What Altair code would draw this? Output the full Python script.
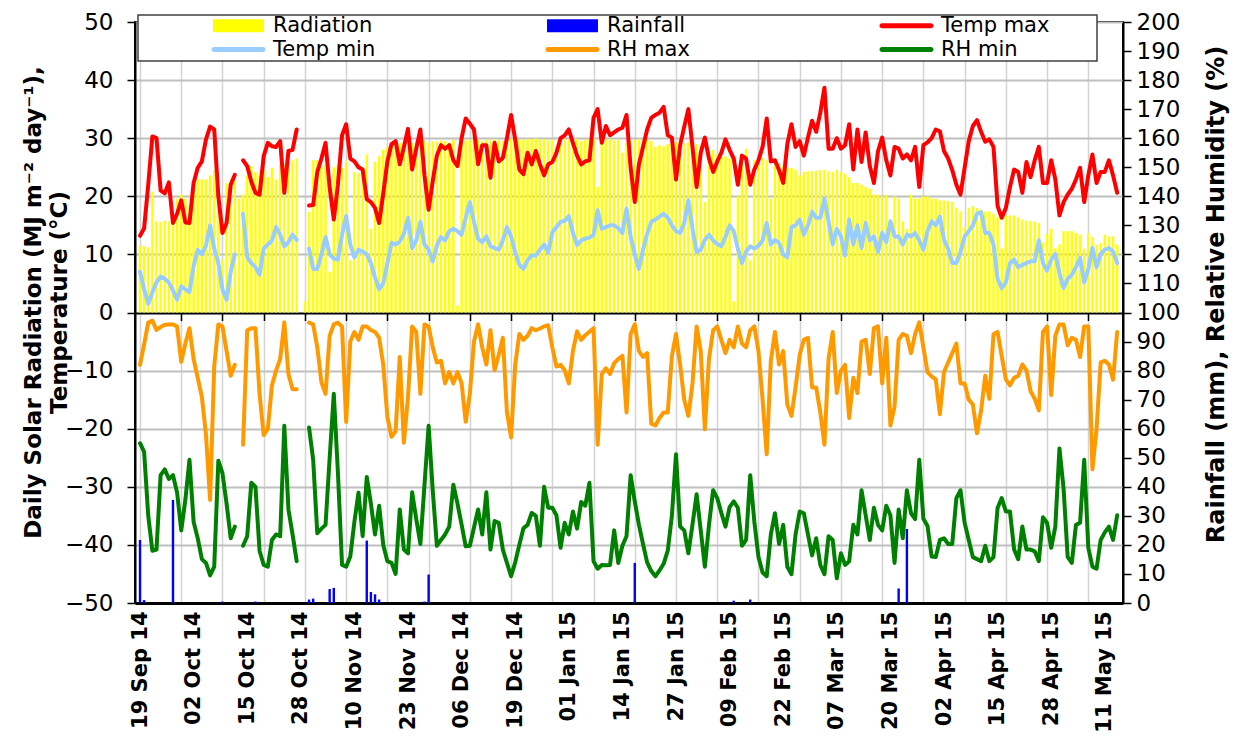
import altair as alt
import pandas as pd

# ---------------- data (daily, 19 Sep 2014 -> 14 May 2015) ----------------
N_DAYS = 238
X_LABELS = ["19 Sep 14", "02 Oct 14", "15 Oct 14", "28 Oct 14", "10 Nov 14", "23 Nov 14",
            "06 Dec 14", "19 Dec 14", "01 Jan 15", "14 Jan 15", "27 Jan 15", "09 Feb 15",
            "22 Feb 15", "07 Mar 15", "20 Mar 15", "02 Apr 15", "15 Apr 15", "28 Apr 15",
            "11 May 15"]

RAD = [11.5, 11.4, 11.2, 20.8, 15.7, 15.6, 15.8, 15.7, 16.0, 19.6,
       20.3, 19.6, 18.3, 21.3, 22.9, 22.9, 22.9, 23.6, 24.5, 23.0,
       9.1, 22.3, 22.9, 22.9, 19.6, 20.3, 23.6, 25.2, 24.2, 23.6,
       24.5, 23.3, 24.9, 22.9, 25.5, 25.5, 26.0, 26.2, 26.5, None,
       1.9, 17.3, 26.2, 26.2, 25.0, 25.5, 7.0, 25.0, 25.5, 24.9,
       26.0, 9.0, 24.2, 24.0, 24.5, 27.2, 14.4, 25.9, 26.9, 28.0,
       28.5, 28.8, 29.0, 29.2, 29.0, 29.5, 29.2, 29.5, 29.3, 29.6,
       29.2, 29.5, 29.4, 29.6, 29.5, 29.2, 29.7, 1.2, 29.5, 29.6,
       29.8, 29.4, 29.7, 29.5, 29.8, 29.6, 29.9, 29.7, 29.5, 29.8,
       29.9, 29.6, 29.8, 29.7, 29.9, 29.8, 30.0, 29.7, 29.9, 29.6,
       29.8, 28.5, 29.7, 29.9, 29.6, 29.8, 29.9, 29.5, 29.7, 29.8,
       29.9, 21.6, 29.5, 29.7, 29.9, 29.6, 29.8, 27.5, 29.2, 29.5,
       29.7, 29.9, 29.6, 29.8, 29.5, 28.5, 28.8, 28.6, 29.0, 29.2,
       29.4, 29.5, 29.1, 29.3, 28.9, 29.0, 28.8, 19.0, 27.5, 28.0,
       27.2, 26.8, 26.9, 26.5, 1.9, 20.0, 26.3, 28.2, 9.0, 26.2,
       26.9, 26.6, 26.2, 19.6, 26.0, 25.6, 25.2, 24.9, 24.9, 24.6,
       23.6, 24.2, 24.3, 24.3, 24.4, 24.5, 24.6, 24.3, 24.2, 24.6,
       24.2, 23.9, 23.3, 22.3, 22.3, 22.0, 21.6, 21.3, 20.3, 20.3,
       20.0, 20.3, 15.0, 20.0, 19.6, 15.7, 14.4, 20.3, 19.6, 19.6,
       20.0, 20.0, 19.6, 19.6, 19.3, 19.3, 19.2, 19.0, 18.0, 17.4,
       14.7, 18.0, 18.3, 18.0, 17.7, 17.4, 17.4, 17.0, 16.4, 11.0,
       16.7, 16.7, 16.7, 16.4, 16.0, 15.8, 15.7, 15.7, 15.4, 12.1,
       13.5, 14.4, 11.0, 11.7, 14.0, 14.0, 14.0, 13.7, 13.4, 11.0,
       13.7, 13.0, 11.7, 12.0, 13.4, 13.1, 13.1, 11.7]

RAIN_DAYS = [0, 1, 8, 20, 28, 41, 42, 46, 47, 55, 56, 57, 58, 69, 70, 120, 144, 148, 184, 186]
RAIN_MM = [21.7, 1.0, 35.5, 0.5, 0.5, 1.2, 1.5, 4.8, 5.2, 21.5, 3.8, 3.0, 1.2, 0.5, 9.8, 13.8,
           0.8, 1.2, 5.0, 25.5]

TMAX = [13.2, 14.5, 22.0, 30.3, 30.0, 21.0, 20.5, 22.4, 15.4, 17.0, 19.3, 15.5, 15.4, 22.3,
        24.9, 26.0, 29.8, 32.0, 31.5, 20.0, 13.7, 15.4, 22.0, 23.7,
        None,
        26.2, 25.2, 22.5, 20.6, 20.3, 26.9, 29.2, 28.6, 28.5, 29.5, 20.6, 27.8, 28.0, 31.5,
        None, None,
        18.4, 18.5, 24.2, 26.5, 29.2, 21.5, 16.0, 22.0, 30.5, 32.4,
        26.5, 26.0, 25.0, 24.6, 19.5, 19.0, 18.0, 15.4, 20.5, 26.0,
        29.0, 29.5, 25.5, 28.5, 31.6, 24.6, 28.2, 31.5, 23.6, 17.7,
        22.6, 27.0, 28.8, 28.2, 28.8, 26.2, 25.2, 30.0, 33.4, 32.5,
        31.5, 25.5, 28.8, 28.8, 23.2, 29.2, 26.0, 26.6, 30.0, 34.0,
        29.8, 24.6, 23.8, 27.5, 25.5, 27.8, 25.5, 23.6, 25.5, 25.9,
        27.5, 30.0, 30.5, 31.5, 29.2, 27.0, 25.5, 26.0, 26.2, 33.5,
        35.0, 29.2, 32.1, 30.5, 31.0, 31.5, 31.8, 34.0, 24.9, 19.0,
        25.5, 28.5, 31.5, 33.5, 34.0, 34.4, 35.4, 30.5, 30.1, 22.9,
        28.8, 32.0, 35.0, 28.5, 21.6, 27.5, 30.1, 26.5, 24.2, 26.0,
        27.5, 29.8, 28.0, 26.5, 22.0, 27.0, 26.5, 22.0, 24.6, 26.2,
        28.5, 33.4, 26.0, 26.2, 24.5, 22.3, 29.0, 32.4, 28.5, 29.5,
        27.0, 30.1, 33.0, 31.1, 34.4, 38.7, 28.2, 28.2, 30.0, 28.2,
        28.8, 32.4, 24.6, 31.5, 25.9, 31.0, 25.2, 22.3, 27.8, 30.1,
        26.2, 23.6, 28.5, 28.2, 26.5, 27.2, 26.2, 28.5, 21.6, 28.8,
        29.3, 30.0, 31.5, 31.2, 27.8, 26.5, 24.5, 22.0, 20.3, 24.9,
        29.5, 32.1, 33.1, 31.1, 29.4, 29.8, 28.5, 18.3, 16.3, 18.0,
        21.6, 24.6, 24.2, 20.6, 25.9, 23.3, 26.2, 28.5, 22.3, 22.3,
        26.2, 22.9, 16.7, 19.0, 20.3, 21.3, 22.9, 24.9, 19.0, 23.6,
        27.2, 22.3, 24.2, 24.2, 26.2, 23.6, 20.6]

TMIN = [7.0, 4.0, 1.5, 3.5, 5.2, 6.2, 5.8, 5.2, 3.8, 2.2, 4.5, 4.0, 3.5, 8.0, 10.8, 10.0,
        11.5, 15.0, 11.0, 8.5, 4.0, 2.2, 7.0, 10.0,
        None,
        17.0, 9.5, 8.5, 7.8, 6.5, 11.0, 11.7, 12.4, 14.7, 13.4, 11.4, 12.1, 13.4, 12.5,
        None, None,
        11.0, 7.5, 7.5, 10.0, 13.0, 10.0, 9.3, 9.1, 13.4, 16.6,
        11.7, 9.5, 10.8, 10.5, 10.0, 8.5, 6.0, 4.0, 5.0, 8.5,
        12.0, 11.7, 12.2, 13.5, 16.3, 11.1, 12.4, 15.6, 11.7, 10.8,
        8.8, 11.5, 13.0, 12.4, 14.0, 14.4, 14.0, 13.4, 16.3, 19.0,
        15.6, 12.7, 12.1, 13.1, 11.4, 11.1, 10.8, 12.4, 14.7, 13.1,
        10.4, 8.2, 7.5, 9.0, 9.8, 9.8, 10.8, 11.7, 10.3, 13.8,
        14.7, 15.6, 15.8, 16.6, 13.7, 11.6, 12.4, 12.7, 12.9, 13.3,
        17.6, 14.4, 14.7, 15.0, 15.0, 14.5, 13.7, 17.9, 13.1, 10.0,
        7.5, 10.8, 13.5, 15.6, 16.0, 16.5, 17.0, 16.3, 15.0, 14.0,
        13.7, 15.4, 19.3, 14.4, 10.4, 10.8, 12.5, 13.4, 12.4, 11.8,
        11.4, 13.0, 15.0, 14.0, 11.0, 8.5, 10.5, 11.4, 11.0, 11.5,
        12.4, 15.4, 11.7, 12.5, 12.0, 10.0, 9.5, 14.7, 15.0, 16.0,
        13.4, 15.0, 17.3, 16.3, 16.3, 19.6, 15.7, 11.7, 14.4, 13.1,
        9.8, 16.0, 11.7, 15.0, 11.1, 15.4, 12.4, 13.1, 10.4, 13.7,
        12.1, 15.7, 13.1, 13.1, 11.7, 13.4, 13.1, 13.7, 12.4, 10.8,
        14.0, 15.7, 15.0, 16.5, 12.5, 11.0, 8.5, 8.5, 10.4, 13.1,
        14.0, 15.0, 17.0, 17.3, 13.7, 13.7, 11.7, 5.8, 4.2, 5.2,
        8.5, 9.1, 7.8, 8.2, 8.5, 8.8, 8.8, 12.4, 8.5, 7.2,
        9.1, 10.1, 6.8, 4.2, 5.8, 6.5, 7.8, 9.4, 5.2, 7.5,
        11.1, 7.8, 10.1, 10.8, 11.1, 10.5, 8.5]

RHMAX = [82.0, 89.0, 96.5, 97.2, 94.0, 95.0, 95.8, 95.9, 95.9, 95.2, 83.0, 89.3, 94.6, 84.0,
         77.5, 71.0, 58.0, 35.5, 81.4, 95.9, 95.2, 86.7, 78.2, 82.0,
         None,
         54.5, 93.9, 94.6, 94.6, 72.0, 57.8, 60.0, 74.9, 80.0, 84.0, 96.6, 78.8, 73.6, 73.6,
         None, None,
         96.5, 95.9, 88.0, 76.0, 72.0, 92.0, 95.9, 96.5, 95.2, 62.3,
         90.0, 93.3, 90.6, 95.2, 95.2, 94.0, 93.3, 91.3, 82.0, 64.0,
         57.2, 59.1, 84.7, 55.2, 70.9, 95.2, 93.3, 72.0, 95.9, 95.2,
         88.0, 82.8, 83.4, 75.6, 79.5, 75.6, 79.5, 75.6, 62.4, 72.0,
         90.0, 95.9, 88.0, 82.1, 93.9, 80.1, 85.4, 91.3, 65.6, 57.0,
         82.0, 92.6, 90.6, 92.0, 94.6, 93.9, 94.5, 95.2, 95.6, 88.0,
         81.4, 82.0, 80.1, 75.6, 86.7, 93.5, 90.6, 92.2, 93.4, 94.6,
         54.5, 78.8, 80.8, 78.8, 82.5, 84.0, 85.1, 65.6, 92.6, 95.9,
         86.7, 84.7, 86.0, 61.7, 61.1, 63.7, 65.6, 65.6, 85.0, 92.6,
         82.0, 70.0, 64.4, 75.6, 95.2, 86.7, 59.8, 84.1, 93.9, 95.2,
         90.6, 86.0, 90.6, 88.0, 95.2, 89.3, 88.0, 93.9, 95.2, 86.7,
         70.0, 51.2, 83.4, 93.3, 82.1, 86.7, 68.3, 64.4, 74.2, 85.4,
         90.6, 91.3, 74.2, 74.2, 65.6, 54.5, 84.1, 93.3, 72.3, 80.0,
         82.0, 63.7, 77.5, 72.3, 90.0, 90.6, 78.8, 94.6, 95.2, 75.6,
         91.3, 61.1, 67.6, 90.6, 92.6, 92.0, 86.0, 92.6, 96.6, 88.0,
         79.5, 78.0, 77.0, 65.0, 79.5, 82.8, 86.0, 89.3, 75.6, 75.6,
         70.0, 68.3, 58.4, 66.3, 78.2, 70.3, 92.5, 93.3, 85.0, 77.0,
         74.9, 77.5, 78.2, 82.1, 80.1, 72.9, 70.3, 66.3, 93.3, 95.2,
         71.6, 92.0, 95.9, 95.9, 88.7, 91.3, 90.6, 84.7, 95.2, 95.2,
         46.0, 60.0, 82.8, 83.4, 82.1, 76.9, 93.3]

RHMIN = [55.0, 52.0, 30.0, 18.0, 18.4, 44.0, 46.0, 42.7, 44.0, 38.0, 25.0, 35.5, 49.3, 28.0,
         22.3, 15.1, 13.8, 9.5, 12.5, 49.0, 44.7, 34.2, 22.3, 26.3,
         None,
         19.7, 23.0, 41.4, 40.0, 18.0, 13.1, 12.5, 21.7, 23.6, 23.0, 61.0, 32.2, 23.6, 14.4,
         None, None,
         60.4, 49.3, 24.0, 25.6, 26.9, 50.0, 72.0, 45.0, 13.1, 12.5,
         16.0, 28.0, 38.0, 23.0, 43.4, 34.2, 23.6, 33.5, 20.0, 14.4,
         13.8, 10.0, 32.2, 18.4, 17.1, 38.1, 28.9, 20.3, 40.7, 61.0,
         38.8, 19.7, 21.7, 23.6, 26.3, 40.7, 34.2, 27.0, 19.5, 19.7,
         26.0, 32.2, 23.6, 38.1, 18.4, 28.2, 27.6, 18.4, 13.8, 9.2,
         14.0, 20.0, 25.7, 26.9, 31.0, 30.0, 19.7, 40.0, 32.8, 32.8,
         30.2, 19.0, 27.6, 23.6, 31.5, 25.6, 34.8, 33.5, 41.4, 14.4,
         11.8, 13.1, 13.0, 13.1, 25.0, 13.8, 19.7, 23.0, 44.0, 35.0,
         27.0, 20.3, 14.0, 11.0, 9.2, 11.2, 13.5, 18.0, 30.0, 51.2,
         26.3, 25.0, 17.1, 27.0, 37.4, 25.0, 12.5, 26.9, 38.8, 36.1,
         31.0, 26.3, 33.0, 35.0, 32.8, 19.7, 21.7, 44.0, 28.0, 15.8,
         10.5, 9.2, 23.6, 30.9, 20.3, 26.9, 12.5, 9.9, 23.6, 31.5,
         30.9, 23.6, 16.4, 22.3, 13.1, 9.9, 23.0, 21.7, 8.5, 17.1,
         13.1, 14.4, 26.9, 23.6, 38.8, 30.2, 21.7, 32.8, 26.9, 25.0,
         33.5, 30.2, 13.8, 32.2, 22.3, 38.8, 30.9, 28.9, 49.3, 29.0,
         26.5, 16.0, 15.8, 21.7, 22.3, 20.3, 20.3, 36.1, 38.8, 27.6,
         21.7, 15.8, 15.1, 14.4, 19.7, 14.4, 15.8, 32.8, 36.1, 31.5,
         31.5, 18.4, 15.1, 26.3, 18.4, 18.4, 17.8, 14.4, 29.5, 27.6,
         19.0, 26.3, 53.2, 39.4, 15.8, 13.8, 26.9, 27.6, 49.3, 19.0,
         12.5, 11.8, 21.7, 24.3, 26.3, 21.7, 30.2]

SERIES = ["Radiation", "Rainfall", "Temp max", "Temp min", "RH max", "RH min"]
COLORS = ["#FFFF00", "#0000FF", "#FF0000", "#99CCFF", "#FF9900", "#008000"]

for arr in (RAD, TMAX, TMIN, RHMAX, RHMIN):
    assert len(arr) == N_DAYS, len(arr)

# ---------------- frames ----------------
def line_frame(vals):
    rows, seg, gap = [], 0, False
    for d, v in enumerate(vals):
        if v is None:
            if not gap:
                seg += 1
            gap = True
            continue
        gap = False
        rows.append({"day": d, "value": v, "seg": seg})
    return pd.DataFrame(rows)

rad_df = pd.DataFrame([{"day": d, "value": v} for d, v in enumerate(RAD) if v is not None])
rain_df = pd.DataFrame({"day": RAIN_DAYS, "value": RAIN_MM})

FONT = "DejaVu Sans"
label_arr = "[" + ",".join("'%s'" % s for s in X_LABELS) + "]"
PLOT_W, PLOT_H = 988, 581

x_scale = alt.Scale(domain=[0, 237.2], nice=False, zero=False)
x_label_axis = alt.Axis(orient="bottom", values=[13 * i for i in range(len(X_LABELS))],
                        labelExpr=label_arr + "[round(datum.value / 13)]",
                        labelAngle=270, labelFont=FONT, labelFontWeight="bold",
                        labelFontSize=21, labelColor="black", labelPadding=8,
                        labelFlush=False, labelOverlap=False, ticks=False, grid=False,
                        domain=True, domainColor="black", domainWidth=3, title=None)
x_grid_axis = alt.Axis(orient="bottom", values=list(range(0, 231, 10)), grid=True,
                       gridColor="#D4D4D4", gridWidth=1.5, labels=False, ticks=False,
                       domain=False, title=None)
x_zero_axis = alt.Axis(orient="bottom", offset=-PLOT_H / 2, values=list(range(10, 231, 10)),
                       grid=False, labels=False, ticks=True, tickSize=8, tickColor="black",
                       tickWidth=1.5, domain=False, title=None)

X_L = alt.X("day:Q", scale=x_scale, axis=x_label_axis)
X_R = alt.X("day:Q", scale=x_scale, axis=x_grid_axis)
X_Z = alt.X("day:Q", scale=x_scale, axis=x_zero_axis)

left_axis = alt.Axis(orient="left", values=list(range(-50, 51, 10)), grid=True,
                     gridColor=alt.condition("datum.value === 0", alt.value("black"), alt.value("#BFBFBF")),
                     gridWidth=2, tickSize=8, tickColor="black", tickWidth=1.5,
                     domainColor="black", domainWidth=2, labelFont=FONT, labelFontSize=23,
                     labelColor="black", labelPadding=14,
                     title=["Daily Solar Radiation (MJ m\u207b\u00b2 day\u207b\u00b9),", "Temperature (\u00b0C)"],
                     titleFont=FONT, titleFontWeight="bold", titleFontSize=23, titleColor="black",
                     titleAngle=270, titleAlign="center", titleBaseline="bottom",
                     titleLineHeight=26, titleX=-90, titleY=280)
right_axis = alt.Axis(orient="right", values=list(range(0, 201, 10)), grid=False,
                      tickSize=8, tickColor="black", tickWidth=1.5, domainColor="black",
                      domainWidth=2, labelFont=FONT, labelFontSize=23, labelColor="black",
                      labelPadding=5, title="Rainfall (mm), Relative Humidity (%)",
                      titleFont=FONT, titleFontWeight="bold", titleFontSize=24,
                      titleColor="black", titleAngle=270, titleAlign="center",
                      titleBaseline="top", titleX=81, titleY=272)

Y_L = alt.Y("value:Q", scale=alt.Scale(domain=[-50, 50], nice=False), axis=left_axis)
Y_R = alt.Y("value:Q", scale=alt.Scale(domain=[0, 200], nice=False), axis=right_axis)

def line(vals, color, x, y):
    return alt.Chart(line_frame(vals)).mark_line(
        color=color, strokeWidth=4, strokeJoin="round", strokeCap="round"
    ).encode(x=x, y=y, detail="seg:N")

left_group = alt.layer(
    alt.Chart(rad_df).mark_bar(color=COLORS[0], size=2.4).encode(x=X_L, y=Y_L),
    line(TMAX, COLORS[2], X_L, Y_L),
    line(TMIN, COLORS[3], X_L, Y_L),
)
right_group = alt.layer(
    alt.Chart(rain_df).mark_bar(color=COLORS[1], size=2.4).encode(x=X_R, y=Y_R),
    line(RHMAX, COLORS[4], X_R, Y_R),
    line(RHMIN, COLORS[5], X_R, Y_R),
)
# invisible carrier for the tick marks on the zero line
zero_ticks = alt.Chart(rain_df).mark_bar(opacity=0, size=1).encode(
    x=X_Z, y=alt.Y("value:Q", scale=alt.Scale(domain=[0, 200], nice=False), axis=None)
)

# ---------------- legend ----------------
BAR_SYM = "M-2.55,-0.65H2.55V0.65H-2.55Z"
LINE_SYM = "M-2.45,-0.25H2.45A0.25,0.25 0 0 1 2.45,0.25H-2.45A0.25,0.25 0 0 1 -2.45,-0.25Z"
SHAPES = [BAR_SYM, BAR_SYM, LINE_SYM, LINE_SYM, LINE_SYM, LINE_SYM]

legend_cfg = alt.Legend(orient="none", legendX=93, legendY=-7, columns=3, direction="horizontal",
                        title=None, labelFont=FONT, labelFontSize=21, labelColor="black",
                        labelOffset=24, symbolSize=400, symbolStrokeWidth=0, symbolOpacity=1,
                        columnPadding=163, rowPadding=2, gridAlign="all", padding=0,
                        labelLimit=300)
legend_pts = alt.Chart(pd.DataFrame({"series": SERIES})).mark_point(filled=True, size=400).encode(
    x=alt.value(-5000), y=alt.value(-5000),
    color=alt.Color("series:N", scale=alt.Scale(domain=SERIES, range=COLORS), legend=legend_cfg),
    shape=alt.Shape("series:N", scale=alt.Scale(domain=SERIES, range=SHAPES), legend=legend_cfg),
)
legend_box = alt.Chart(pd.DataFrame({"k": [0]})).mark_rect(
    fill="white", stroke="#404040", strokeWidth=1.5
).encode(x=alt.value(3), x2=alt.value(962), y=alt.value(-7), y2=alt.value(39))

chart = alt.layer(left_group, right_group, zero_ticks, legend_box, legend_pts).resolve_scale(
    y="independent"
).resolve_axis(x="independent").properties(
    width=PLOT_W, height=PLOT_H,
    padding={"left": 127, "top": 14, "right": 112, "bottom": 134},
    autosize=alt.AutoSizeParams(type="none"),
    background="white",
).configure_view(stroke="black", strokeWidth=2)

chart.save("out.html", embed_options={"renderer": "svg", "actions": False})
